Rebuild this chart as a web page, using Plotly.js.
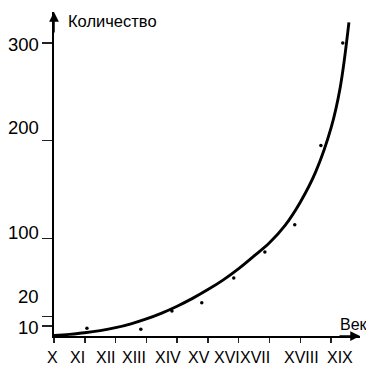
<!DOCTYPE html>
<html>
<head>
<meta charset="utf-8">
<script src="https://cdn.plot.ly/plotly-3.0.1.min.js"></script>
<style>html,body{margin:0;padding:0;background:#fff;}#chart{width:366px;height:365px;}</style>
</head>
<body>
<div id="chart"></div>
<script>
// Century positions (0 = X century ... 9 = XIX century)
var centuryTicks = [0, 1, 2, 3, 4, 5, 6, 7, 8, 9];
var centuryLabels = ['X', 'XI', 'XII', 'XIII', 'XIV', 'XV', 'XVI', 'XVII', 'XVIII', 'XIX'];

// Y ticks
var yTickVals = [10, 20, 100, 200, 300];
var yTickLabels = ['10', '20', '100', '200', '300'];

// Observed points (dots)
var dotX = [0.19, 1.07, 2.82, 3.83, 4.8, 5.84, 6.85, 7.82, 8.67, 9.38];
var dotY = [0, 8, 7, 25.5, 34, 59.5, 86, 114, 195, 300];

// Trend curve
var curveX = [0, 0.5, 1, 1.5, 2, 2.5, 3, 3.5, 4, 4.5, 5, 5.5, 6, 6.5, 7, 7.5, 8, 8.5, 9, 9.3, 9.58];
var curveY = [0.5, 1.7, 3.3, 5.5, 8.5, 12.5, 17.5, 23.5, 30.5, 38.5, 47.5, 57.5, 69, 82, 95.5, 113, 137, 168, 213, 255, 321];

var axisTitleY = 'Количество';
var axisTitleX = 'Век';

var FONT = 'Liberation Sans, Arial, Helvetica, sans-serif';

var traces = [
  {
    x: curveX, y: curveY, type: 'scatter', mode: 'lines',
    line: {color: '#000', width: 2.9, shape: 'spline', smoothing: 1},
    hoverinfo: 'skip', cliponaxis: false
  },
  {
    x: dotX, y: dotY, type: 'scatter', mode: 'markers',
    marker: {color: '#000', size: 3.5, symbol: 'circle'},
    cliponaxis: false
  }
];

// label offsets (pixels) to match the hand-set layout of the original
var xLabelShift = [-1.5, -7, -9.5, -12.5, -9, -9, -12, -14.5, 1.5, 9];
var yLabelShift = [-1, 20, 5.5, 13, -1.5];

var annotations = [];
centuryTicks.forEach(function (v, i) {
  annotations.push({
    x: v, y: 0, xref: 'x', yref: 'paper', yanchor: 'middle', xanchor: 'center',
    yshift: -21.5, xshift: xLabelShift[i],
    text: centuryLabels[i], showarrow: false,
    font: {family: FONT, size: 16, color: '#000'}
  });
});
yTickVals.forEach(function (v, i) {
  annotations.push({
    x: 0, y: v, xref: 'paper', yref: 'y', xanchor: 'right', yanchor: 'middle',
    xshift: -13, yshift: yLabelShift[i],
    text: yTickLabels[i], showarrow: false,
    font: {family: FONT, size: 18.5, color: '#000'}
  });
});
// axis titles
annotations.push({
  x: 0, y: 1, xref: 'paper', yref: 'paper', xanchor: 'left', yanchor: 'middle',
  xshift: 12, yshift: -9, text: axisTitleY, showarrow: false,
  font: {family: FONT, size: 16.5, color: '#000'}
});
annotations.push({
  x: 1, y: 0, xref: 'paper', yref: 'paper', xanchor: 'left', yanchor: 'middle',
  xshift: -22, yshift: 12, text: axisTitleX, showarrow: false,
  font: {family: FONT, size: 16, color: '#000'}
});
// axis arrows
annotations.push({
  x: 1, y: 0, xref: 'paper', yref: 'paper', ax: -22, ay: 0, text: '',
  showarrow: true, arrowhead: 2, arrowsize: 1.3, arrowwidth: 1.5, arrowcolor: '#000'
});
annotations.push({
  x: 0, y: 1, xref: 'paper', yref: 'paper', ax: 0, ay: 22, text: '',
  showarrow: true, arrowhead: 2, arrowsize: 1.3, arrowwidth: 1.5, arrowcolor: '#000'
});

var layout = {
  width: 366, height: 365,
  margin: {l: 54, r: 6, t: 12, b: 29, pad: 0},
  paper_bgcolor: '#fff', plot_bgcolor: '#fff',
  showlegend: false,
  font: {family: FONT, color: '#000'},
  xaxis: {
    range: [0, 9.94], showgrid: false, zeroline: false,
    showline: true, linecolor: '#000', linewidth: 2,
    ticks: 'outside', ticklen: 5, tickwidth: 1.5, tickcolor: '#222',
    tickvals: centuryTicks, showticklabels: false, fixedrange: true
  },
  yaxis: {
    range: [0, 331.7], showgrid: false, zeroline: false,
    showline: true, linecolor: '#000', linewidth: 2,
    ticks: 'outside', ticklen: 10, tickwidth: 1.5, tickcolor: '#222',
    tickvals: yTickVals, showticklabels: false, fixedrange: true
  },
  annotations: annotations
};

Plotly.newPlot('chart', traces, layout, {displayModeBar: false, staticPlot: true});
</script>
</body>
</html>
